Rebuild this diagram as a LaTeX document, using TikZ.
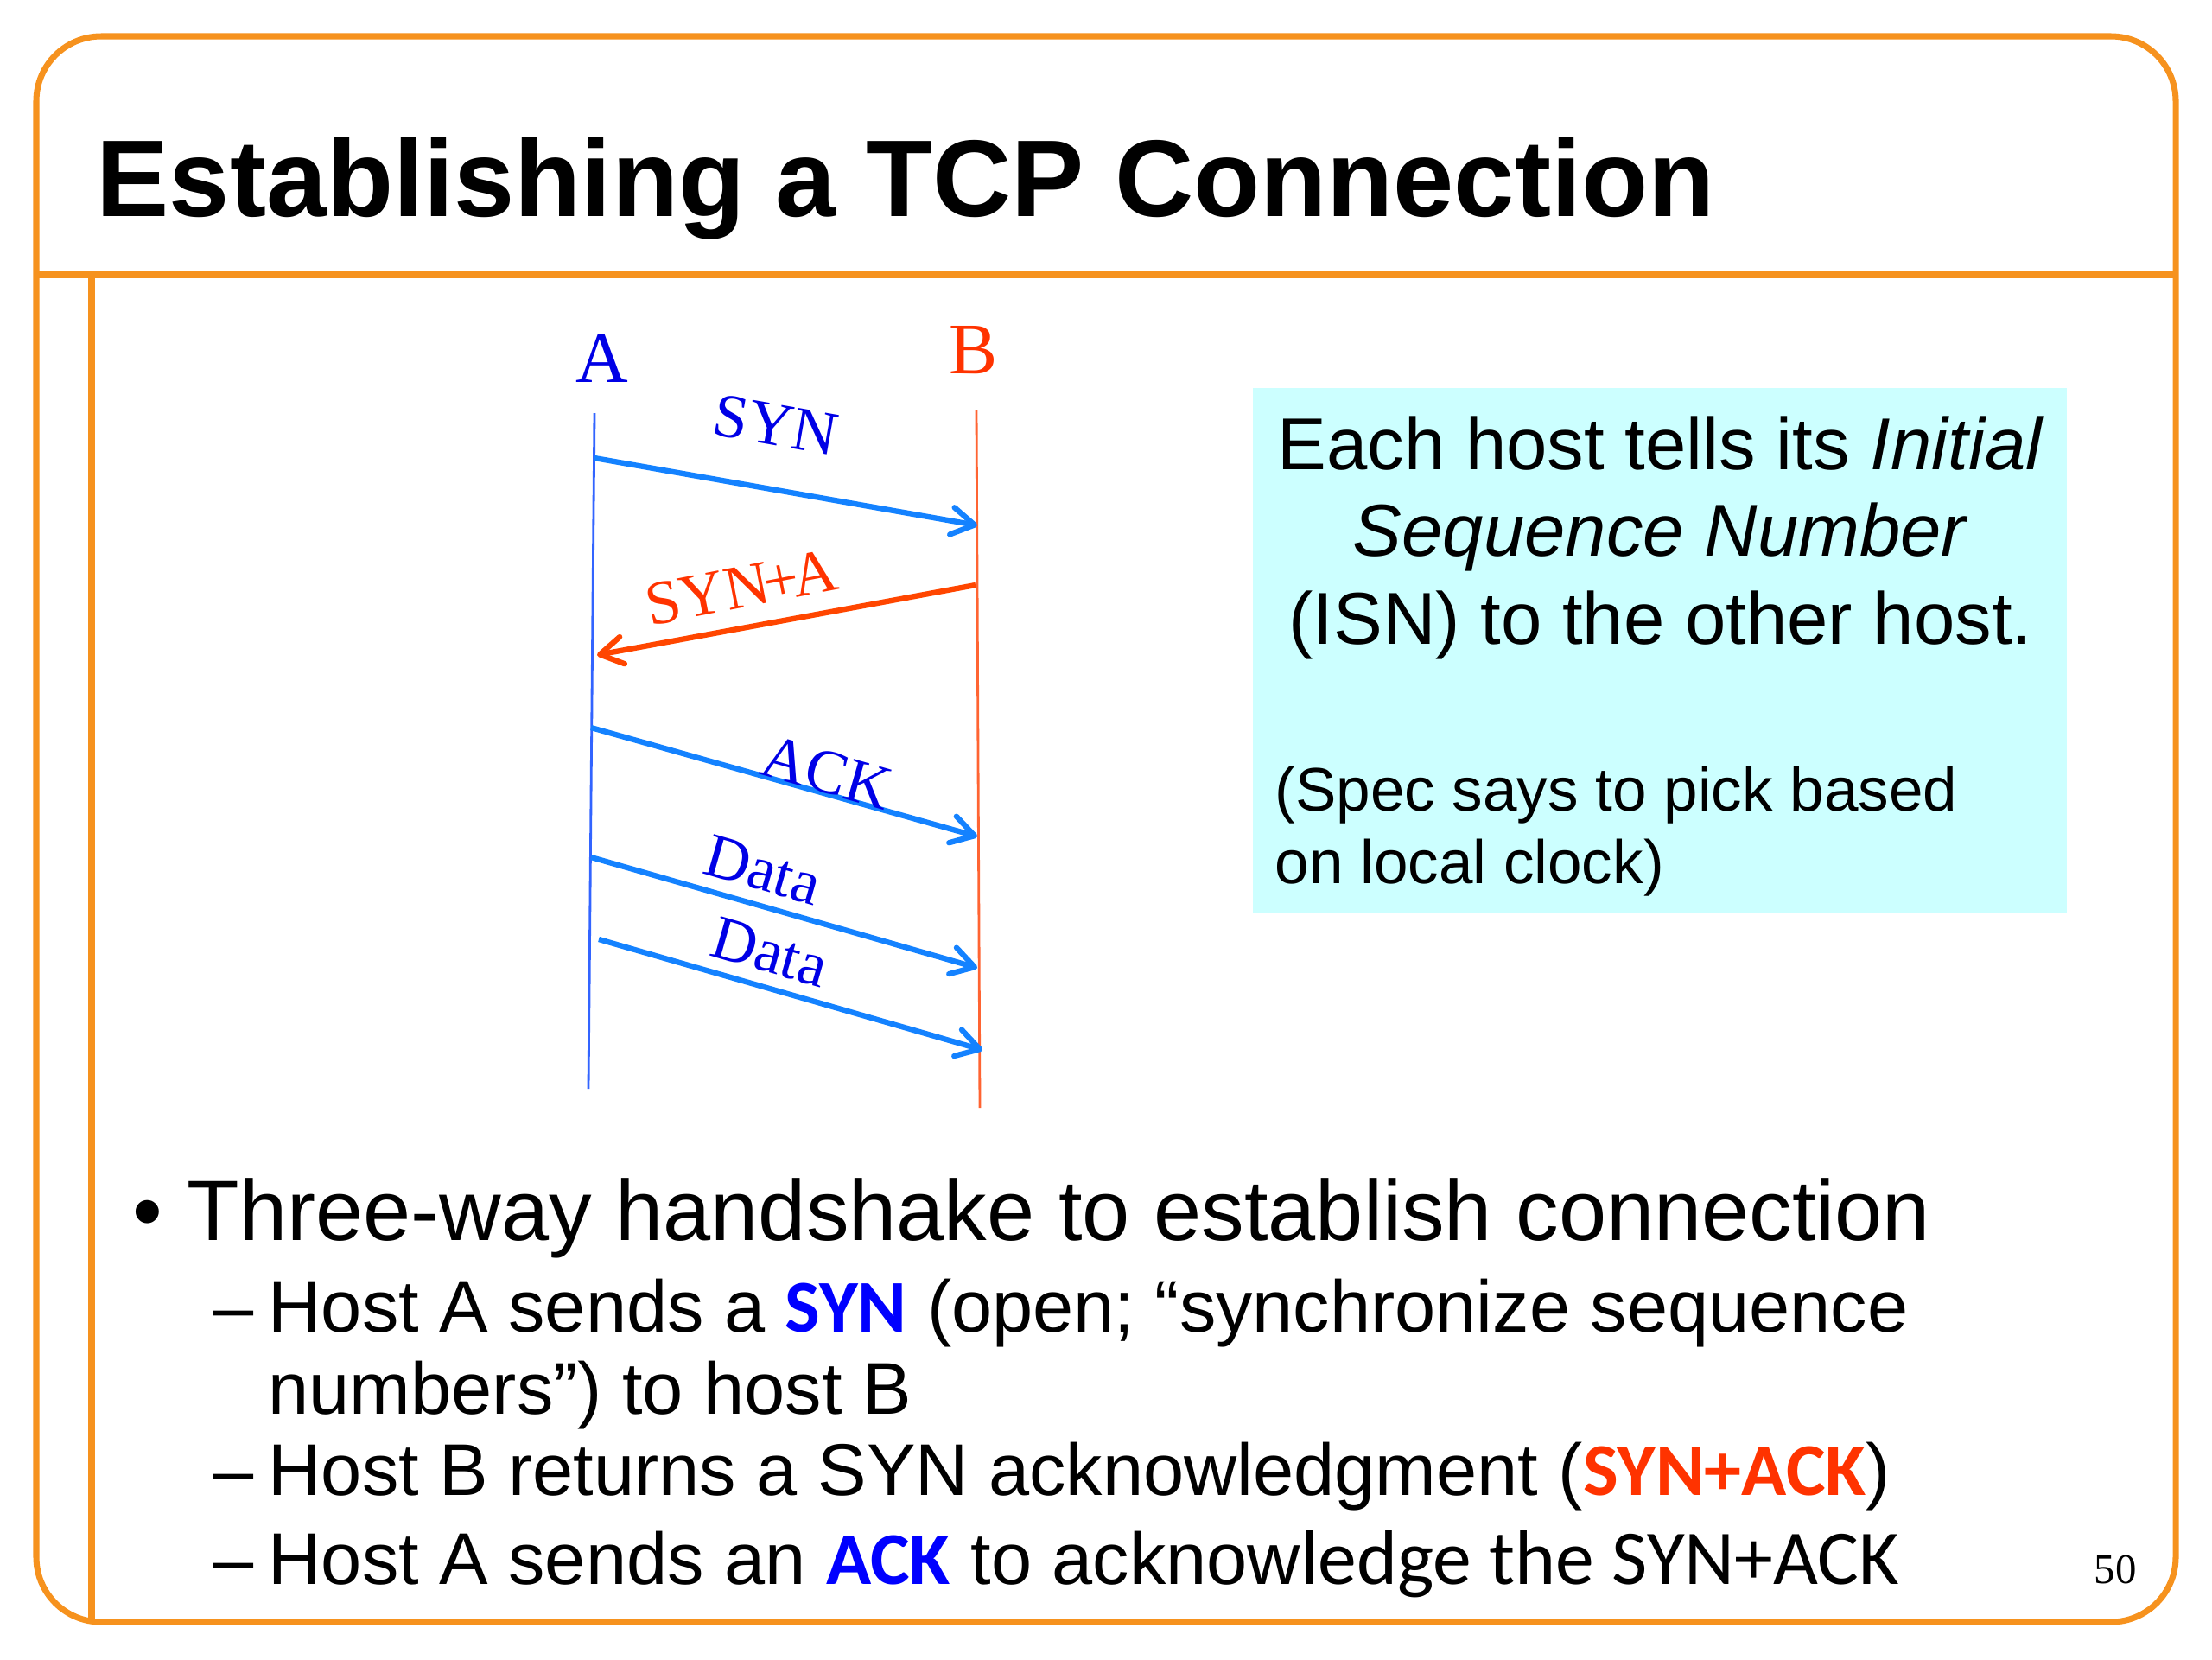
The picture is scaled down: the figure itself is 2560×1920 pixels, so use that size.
\documentclass[tikz,border=0pt]{standalone}
\usepackage{fontspec}
\setmainfont{Liberation Sans}
\newfontfamily\timesfont{Liberation Serif}
\newfontfamily\calibfont{Carlito}
\usepackage{xcolor}
\usetikzlibrary{calc, positioning, arrows.meta}

\definecolor{frameorange}{RGB}{246,146,30}
\definecolor{isncyan}{RGB}{204,255,255}
\definecolor{hostblue}{RGB}{0,0,230}
\definecolor{hostred}{RGB}{255,51,0}
\definecolor{lifeblue}{RGB}{50,100,255}
\definecolor{lifered}{RGB}{255,100,50}
\definecolor{msgblue}{RGB}{20,130,255}
\definecolor{msgred}{RGB}{255,70,0}
\definecolor{kwblue}{RGB}{0,0,255}
\definecolor{kwred}{RGB}{255,51,0}

\newcommand{\keyw}[2]{{\calibfont\bfseries\fontsize{24.5}{29}\selectfont\color{#1}#2}}

\begin{document}
\begin{tikzpicture}[x=0.01cm, y=-0.01cm,
  frame/.style={draw=frameorange, line width=2pt},
  life/.style={line width=0.8pt},
  msg/.style={line width=1.8pt, -{Straight Barb[length=7.5pt, width=9pt, round]}},
  lbl/.style={inner sep=0, font=\timesfont\fontsize{20.5}{24}\selectfont},
  host/.style={inner sep=0, anchor=base, font=\timesfont\fontsize{23.9}{28}\selectfont},
  isn/.style={inner sep=0, anchor=base, font=\fontsize{24.2}{29}\selectfont},
  isnsmall/.style={inner sep=0, anchor=base west, font=\fontsize{20.2}{24}\selectfont},
  bul/.style={inner sep=0, anchor=base west, font=\fontsize{28.2}{34}\selectfont},
  sub/.style={inner sep=0, anchor=base west, font=\fontsize{24.1}{29}\selectfont}]
\useasboundingbox (0,0) rectangle (2560,1920);

% slide frame
\draw[frame, rounded corners=0.75cm] (42,42) rectangle (2518,1877);
\draw[frame] (42,318) -- (2518,318);
\draw[frame] (106,318) -- (106,1877);
\node[anchor=base west, inner sep=0, font=\bfseries\fontsize{35.9}{40}\selectfont] (title) at (111,250) {Establishing a TCP Connection};

% hosts and time lines
\node[host, text=hostblue] (A) at (697,442) {A};
\node[host, text=hostred] (B) at (1127,432) {B};
\coordinate (Atop) at (688,478); \coordinate (Abot) at (681,1260);
\coordinate (Btop) at (1130,474); \coordinate (Bbot) at (1134,1282);
\draw[life, lifeblue] (Atop) -- (Abot);
\draw[life, lifered] (Btop) -- (Bbot);

% messages
\coordinate (syn0) at (688,530); \coordinate (syn1) at (1131,608);
\coordinate (sa0) at (1129,677); \coordinate (sa1) at (691,758);
\coordinate (ack0) at (684,842); \coordinate (ack1) at (1131,968);
\coordinate (da0) at (684,992); \coordinate (da1) at (1131,1120);
\coordinate (db0) at (693,1087); \coordinate (db1) at (1137,1215);
\draw[msg, msgblue] (syn0) -- (syn1);
\draw[msg, msgred] (sa0) -- (sa1);
\draw[msg, msgblue] (ack0) -- (ack1);
\draw[msg, msgblue] (da0) -- (da1);
\draw[msg, msgblue] (db0) -- (db1);
\node[lbl, text=hostblue, rotate=-10] (synlbl) at (898,492) {SYN};
\node[lbl, text=hostred, rotate=11] (salbl) at (858,680) {SYN\kern-0.08em+\kern-0.1emA};
\node[lbl, text=hostblue, rotate=-16] (acklbl) at (957,894) {ACK};
\node[lbl, text=hostblue, rotate=-16] (dalbl) at (883,1007) {Data};
\node[lbl, text=hostblue, rotate=-16] (dblbl) at (891,1102) {Data};

% ISN note
\node[fill=isncyan, inner sep=0, minimum width=9.42cm, minimum height=6.07cm, anchor=north west] (isnbox) at (1449,448) {};
\node[isn] (isn1) at (1922,543) {Each host tells its \textit{Initial}};
\node[isn] (isn2) at (1922,643) {\textit{Sequence Number}};
\node[isn] (isn3) at (1922,745) {(ISN) to the other host.};
\node[isnsmall] (spec1) at (1475,938) {(Spec says to pick based};
\node[isnsmall] (spec2) at (1475,1022) {on local clock)};

% bullets
\node[bul, anchor=base] (dot) at (171,1435) {•};
\node[bul] (pt0) at (216,1435) {Three-way handshake to establish connection};
\node[sub, anchor=base] (d1) at (270,1541) {–};
\node[sub] (pt1) at (310,1541) {Host A sends a \keyw{kwblue}{SYN} (open; “synchronize sequence};
\node[sub] (pt1b) at (310,1636) {numbers”) to host B};
\node[sub, anchor=base] (d2) at (270,1730) {–};
\node[sub] (pt2) at (310,1730) {Host B returns a SYN acknowledgment (\keyw{kwred}{SYN+ACK})};
\node[sub, anchor=base] (d3) at (270,1833) {–};
\node[sub] (pt3) at (310,1833) {Host A sends an \keyw{kwblue}{ACK} to acknow{\calibfont\fontsize{25.5}{30}\selectfont ledge the SYN+ACK}};
\node[anchor=base, inner sep=0, font=\timesfont\fontsize{13.9}{16}\selectfont] (pnum) at (2448,1832) {50};
\end{tikzpicture}
\end{document}
